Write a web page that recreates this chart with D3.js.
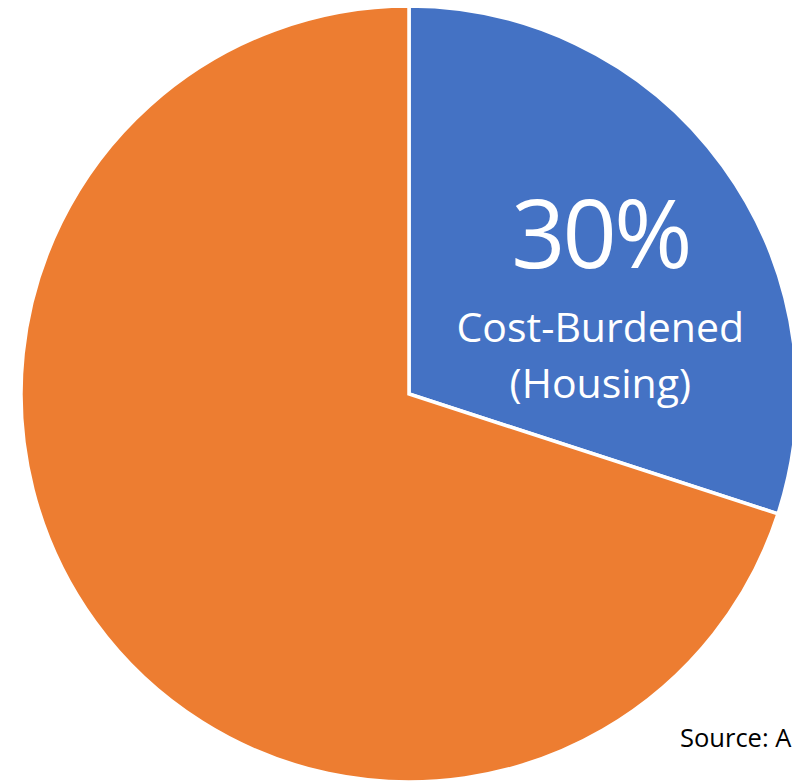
<!DOCTYPE html>
<html>
<head>
<meta charset="utf-8">
<script src="https://cdn.jsdelivr.net/npm/d3@7"></script>
<style>
  html, body { margin: 0; padding: 0; background: #ffffff; overflow: hidden; }
  svg { display: block; }
</style>
</head>
<body>
<svg id="chart" width="792" height="783"></svg>
<script>
// Share of households by housing cost burden
const categories = ["Cost-Burdened (Housing)", "Not Cost-Burdened"];
const shares = [30, 70];
const colors = ["#4472C4", "#ED7D31"];
const labelLines = ["Cost-Burdened", "(Housing)"];
const sourceNote = "Source: A";

const width = 792, height = 783;
const cx = 409, cy = 394, radius = 388;

const svg = d3.select("#chart");
const g = svg.append("g").attr("transform", `translate(${cx},${cy})`);

const pie = d3.pie().sort(null).value(d => d.value);
const data = pie(categories.map((c, i) => ({ name: c, value: shares[i], color: colors[i] })));

const arc = d3.arc().innerRadius(0).outerRadius(radius);

g.selectAll("path.slice")
  .data(data)
  .join("path")
  .attr("class", "slice")
  .attr("d", arc)
  .attr("fill", d => d.data.color)
  .attr("stroke", "#ffffff")
  .attr("stroke-width", 3.5)
  .attr("stroke-linejoin", "miter");

// Data label on the first slice
const labelArc = d3.arc().innerRadius(radius * 0.6).outerRadius(radius * 0.6);
const first = data[0];
const [lx, ly] = labelArc.centroid(first);

const label = g.append("g").attr("transform", `translate(${lx + 3},${ly})`)
  .attr("fill", "#ffffff")
  .attr("font-family", "'Open Sans', 'Noto Sans', sans-serif")
  .attr("text-anchor", "middle");

label.append("text")
  .attr("y", 11)
  .attr("font-size", 95)
  .attr("letter-spacing", -3)
  .text(d3.format(".0%")(first.data.value / d3.sum(shares)));

label.selectAll("text.line")
  .data(labelLines)
  .join("text")
  .attr("class", "line")
  .attr("y", (d, i) => 85 + i * 56)
  .attr("font-size", 41)
  .text(d => d);

svg.append("text")
  .attr("x", 680)
  .attr("y", 747)
  .attr("font-family", "'Open Sans', 'Noto Sans', sans-serif")
  .attr("font-size", 25.5)
  .attr("fill", "#000000")
  .text(sourceNote);
</script>
</body>
</html>
